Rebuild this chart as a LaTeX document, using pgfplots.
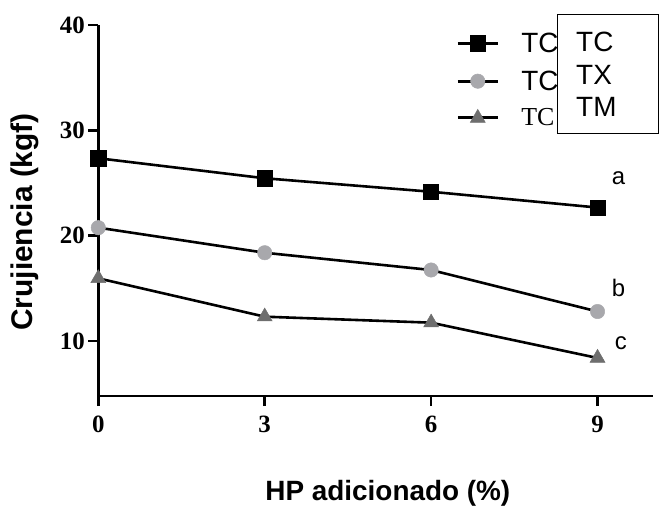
\documentclass[border=0pt]{standalone}
\usepackage{fontspec}
\setmainfont{Liberation Serif}
\newfontfamily\arial{Liberation Sans}
\usepackage{pgfplots}
\pgfplotsset{compat=1.18}
\definecolor{cgray}{RGB}{168,168,172}
\definecolor{tgray}{RGB}{110,110,110}
\begin{document}
\begin{tikzpicture}[x=1bp,y=1bp]
\path[use as bounding box] (0bp,0bp) rectangle (659bp,511bp);
\begin{axis}[
  at={(98.3bp,115bp)}, anchor=south west,
  scale only axis, width=554.7bp, height=371bp,
  xmin=0, xmax=10, ymin=4.78, ymax=40,
  axis lines=left,
  axis line style={-, line width=2.6bp, black},
  xtick={0,3,6,9}, ytick={10,20,30,40},
  tick align=outside, major tick length=10bp,
  tick style={line width=2.6bp, black},
  /pgf/number format/assume math mode=true,
  ticklabel style={font=\fontsize{25}{25}\selectfont\bfseries},
  yticklabel style={xshift=0bp},
  xticklabel style={yshift=-6bp},
  xlabel={HP adicionado (\%)},
  ylabel={Crujiencia (kgf)},
  xlabel style={font=\arial\fontsize{28}{28}\selectfont\bfseries, at={(axis description cs:0.522,0)}, anchor=center, yshift=-97bp},
  ylabel style={font=\arial\fontsize{30}{30}\selectfont\bfseries, at={(axis description cs:-0.1321,0.469)}, anchor=center},
  clip=false,
  legend style={draw=none, fill=none, at={(axis description cs:0.645,0.985)}, anchor=north west,
    row sep=13bp, font=\arial\fontsize{28}{28}\selectfont, inner sep=0pt,
    /tikz/every odd column/.append style={column sep=20bp}},
  legend cell align=left,
  legend image code/.code={%
    \draw[line width=3bp, black, solid] (0bp,0bp) -- (40bp,0bp);
    \draw[mark repeat=2,mark phase=2] plot coordinates {(0bp,0bp)(20bp,0bp)(40bp,0bp)};},
]
\addplot[black, line width=2.6bp, mark=square*, mark size=7.6bp, mark options={solid, fill=black, draw=black, line width=0.5bp}]
  coordinates {(0,27.35) (3,25.45) (6,24.17) (9,22.67)};
\addlegendentry{TC}
\addplot[black, line width=2.6bp, mark=*, mark size=7.2bp, mark options={solid, fill=cgray, draw=cgray, line width=0.5bp}]
  coordinates {(0,20.76) (3,18.38) (6,16.74) (9,12.80)};
\addlegendentry{TC}
\addplot[black, line width=2.6bp, mark=triangle*, mark size=8.6bp, mark options={solid, fill=tgray, draw=tgray, line width=0.5bp}]
  coordinates {(0,15.95) (3,12.31) (6,11.74) (9,8.39)};
\addlegendentry{\rmfamily\fontsize{26}{26}\selectfont TC}
\node[font=\arial\fontsize{24}{24}\selectfont] at (axis cs:9.38,25.5) {a};
\node[font=\arial\fontsize{24}{24}\selectfont] at (axis cs:9.38,15.0) {b};
\node[font=\arial\fontsize{24}{24}\selectfont] at (axis cs:9.42,9.8) {c};
\end{axis}
\draw[line width=1bp, fill=white] (557bp,377bp) rectangle (658bp,496bp);
\node[font=\arial\fontsize{28}{28}\selectfont, anchor=west, inner sep=0pt] at (576bp,469bp) {TC};
\node[font=\arial\fontsize{28}{28}\selectfont, anchor=west, inner sep=0pt] at (576bp,436bp) {TX};
\node[font=\arial\fontsize{28}{28}\selectfont, anchor=west, inner sep=0pt] at (576bp,404bp) {TM};
\end{tikzpicture}
\end{document}
